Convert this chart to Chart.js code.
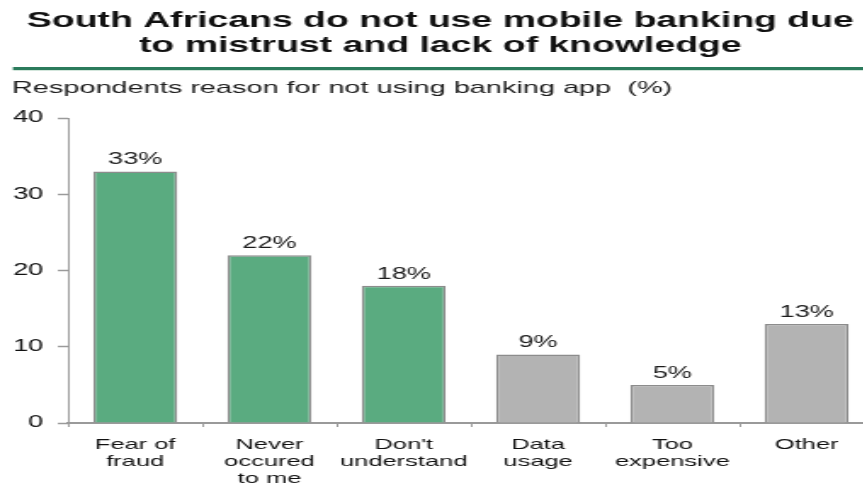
<!DOCTYPE html>
<html>
<head>
<meta charset="utf-8">
<script src="https://cdn.jsdelivr.net/npm/chart.js@4/dist/chart.umd.min.js"></script>
<style>
  html, body { margin: 0; padding: 0; background: #fff; overflow: hidden; }
  #wrap { width: 518px; height: 488px; transform: scaleX(1.7); transform-origin: 0 0; }
</style>
</head>
<body>
<div id="wrap"><canvas id="chart" width="518" height="488"></canvas></div>
<script>
const titleLines = ['South Africans do not use mobile banking due', 'to mistrust and lack of knowledge'];
const subtitle = 'Respondents reason for not using banking app  (%)';
const categories = [['Fear of', 'fraud'], ['Never', 'occured', 'to me'], ["Don't", 'understand'], ['Data', 'usage'], ['Too', 'expensive'], ['Other']];
const shares = [33, 22, 18, 9, 5, 13];
const yMax = 40;
const yStep = 10;

const FONT = '"Liberation Sans", Arial, sans-serif';
const GREEN = '#5aab80';
const GREY = '#b3b3b3';
const AXIS = '#9a9a9a';

// first three reasons are the trust / knowledge ones, drawn in green
const fills = shares.map((v, i) => i < 3 ? GREEN : GREY);

const headerPlugin = {
  id: 'header',
  afterDraw(chart) {
    const ctx = chart.ctx;
    const w = chart.width;
    ctx.save();
    ctx.fillStyle = '#111';
    ctx.textAlign = 'center';
    ctx.textBaseline = 'alphabetic';
    ctx.font = 'bold 22px ' + FONT;
    ctx.fillText(titleLines[0], w / 2, 27);
    ctx.fillText(titleLines[1], w / 2, 52);

    ctx.fillStyle = '#2b7b5c';
    ctx.fillRect(7.6, 67, w, 3);
    ctx.fillStyle = '#d3e6dc';
    ctx.fillRect(7.6, 70, w, 1);

    ctx.fillStyle = '#1c1c1c';
    ctx.textAlign = 'left';
    ctx.font = '17px ' + FONT;
    ctx.fillText(subtitle, 7, 93);
    ctx.restore();
  }
};

const valueLabels = {
  id: 'valueLabels',
  afterDatasetsDraw(chart) {
    const ctx = chart.ctx;
    const meta = chart.getDatasetMeta(0);
    ctx.save();
    ctx.fillStyle = '#1c1c1c';
    ctx.font = '16px ' + FONT;
    ctx.textAlign = 'center';
    ctx.textBaseline = 'alphabetic';
    meta.data.forEach((bar, i) => {
      ctx.fillText(shares[i] + '%', bar.x, bar.y - 7);
    });
    ctx.restore();
  }
};

new Chart(document.getElementById('chart'), {
  type: 'bar',
  data: {
    labels: categories,
    datasets: [{
      data: shares,
      backgroundColor: fills,
      borderColor: '#8c8c8c',
      borderWidth: 1.5,
      borderSkipped: 'bottom',
      barPercentage: 0.625,
      categoryPercentage: 1
    }]
  },
  options: {
    responsive: false,
    animation: false,
    devicePixelRatio: 1,
    layout: { padding: { top: 118, left: 0, right: 4, bottom: 0 } },
    scales: {
      y: {
        min: 0,
        max: yMax,
        afterFit(scale) { scale.width = 40; },
        ticks: {
          stepSize: yStep,
          padding: 8.5,
          color: '#111',
          font: { family: FONT, size: 16 }
        },
        grid: {
          drawOnChartArea: false,
          drawTicks: true,
          tickLength: 6,
          tickColor: AXIS,
          tickWidth: 1.5
        },
        border: { color: AXIS, width: 1 }
      },
      x: {
        afterFit(scale) { scale.height = 65; },
        ticks: {
          padding: 9,
          maxRotation: 0,
          autoSkip: false,
          color: '#111',
          font: { family: FONT, size: 15, lineHeight: 1.15 }
        },
        grid: {
          offset: true,
          drawOnChartArea: false,
          drawTicks: true,
          tickLength: 4,
          tickColor: AXIS,
          tickWidth: 1
        },
        border: { color: AXIS, width: 2 }
      }
    },
    plugins: {
      legend: { display: false },
      tooltip: { enabled: false }
    }
  },
  plugins: [headerPlugin, valueLabels]
});
</script>
</body>
</html>
